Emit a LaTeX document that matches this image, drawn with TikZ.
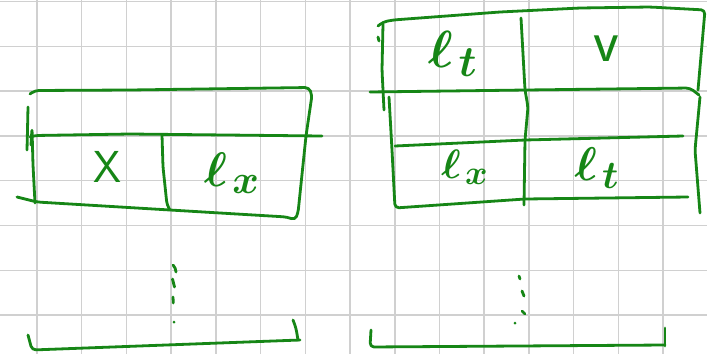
\documentclass[tikz,border=0pt]{standalone}
\usepackage{fontspec}
\definecolor{pen}{RGB}{22,134,22}
\definecolor{gridc}{RGB}{208,208,208}
\tikzset{
  gridline/.style={gridc, line width=1.5pt},
  stroke/.style={pen, line width=2.8pt, line cap=round, line join=round, rounded corners=4pt},
  handtext/.style={pen, inner sep=0pt, font=\Huge\boldmath},
}
\begin{document}
\begin{tikzpicture}[x=1pt,y=-1pt]
\useasboundingbox (0,0) rectangle (707,354);
\fill[white] (0,0) rectangle (707,354);
% grid
\foreach \i in {0,...,15} \draw[gridline] ({37+44.72*\i},0) -- ({37+44.72*\i},354);
\foreach \j in {0,...,7} \draw[gridline] (0,{1.5+44.8*\j}) -- (707,{1.5+44.8*\j});

% ---------- left figure ----------
\draw[stroke] (30,94) -- (35,90.5) -- (130,90) -- (309,87.5) -- (312,95) -- (306,136) -- (298,213) -- (295,220) -- (287,217) -- (170,210) -- (37,202) -- (17,197);
\draw[stroke] (30,137) -- (35,135.5) -- (130,134) -- (322,136);
\draw[stroke] (28,107) -- (27.5,130) -- (27,150);
\draw[stroke] (31,145) -- (32,128) -- (33,165) -- (35,203);
\draw[stroke] (162,135) -- (163,167) -- (167,205) -- (170,210);
% dots
\draw[stroke] (173,265) -- (176,268) -- (176,272);
\draw[stroke] (172.5,279) -- (174.5,287);
\draw[stroke] (173,297) -- (173.3,303);
\fill[pen] (174,322) circle (1.5pt);
% bracket
\draw[stroke] (28,335) -- (32,350) -- (300,340);
\draw[stroke] (293,320) -- (296,328) -- (298,340);

\node[handtext, scale=1.8] (X) at (107,167) {\textsf{X}};
\node[handtext, scale=1.95] (lx1) at (232,173) {$\ell_{\mkern2mu x}$};

% ---------- right figure ----------
\draw[stroke] (378,26) -- (383,22) -- (393,20) -- (500,12) -- (580,8) -- (650,7) -- (705,10) -- (703,33) -- (698,90);
\draw[stroke] (383,24) -- (382,70) -- (384,110);
\draw[stroke] (378,37) -- (379,41);
\draw[stroke] (370,92) -- (526,90) -- (690,88) -- (699,95);
\draw[stroke] (700,97) -- (695,150) -- (700,213);
\draw[stroke] (521,18) -- (525,90) -- (528,107) -- (525,140) -- (524,205);
\draw[stroke] (395,146) -- (525,140) -- (683,136);
\draw[stroke] (389,97) -- (392,150) -- (395,208) -- (525,199) -- (688,197);
% dots
\draw[stroke] (519,276) -- (520,279);
\draw[stroke] (522,291) -- (524,296);
\draw[stroke] (522,311) -- (525,314);
\fill[pen] (515,323) circle (1.5pt);
% bracket
\draw[stroke] (371,330) -- (370,347) -- (665,345);
\draw[stroke] (665,328) -- (665,346);

\node[handtext, scale=2.1] (lt1) at (453,54) {$\ell_{\mkern2mu t}$};
\node[handtext, scale=2.4] (v) at (606,49) {\textsf{v}};
\node[handtext, scale=1.65] (lx2) at (465,167) {$\ell_{\mkern2mu x}$};
\node[handtext, scale=1.9] (lt2) at (597,168) {$\ell_{\mkern2mu t}$};
\end{tikzpicture}
\end{document}
